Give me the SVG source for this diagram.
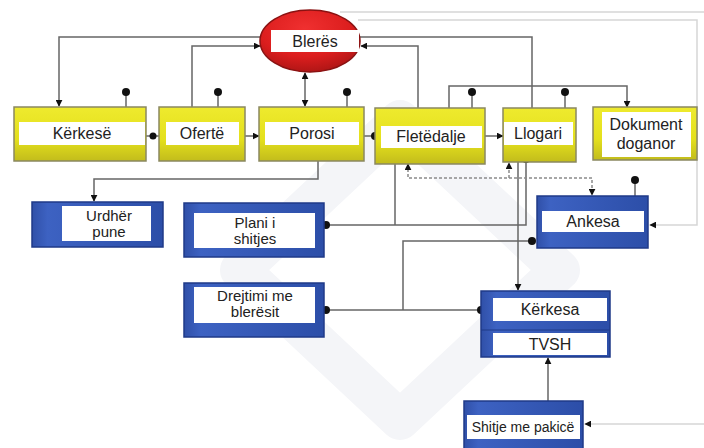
<svg xmlns="http://www.w3.org/2000/svg" width="704" height="448" viewBox="0 0 704 448">
  <defs>
    <linearGradient id="gYellow" x1="0" y1="0" x2="0" y2="1">
      <stop offset="0" stop-color="#eeea2e"/>
      <stop offset="0.6" stop-color="#e4e01c"/>
      <stop offset="1" stop-color="#c2bc1c"/>
    </linearGradient>
    <linearGradient id="gBlue" x1="0" y1="0" x2="1" y2="0">
      <stop offset="0" stop-color="#3050a8"/>
      <stop offset="0.12" stop-color="#3d62c2"/>
      <stop offset="1" stop-color="#2c4ea8"/>
    </linearGradient>
    <radialGradient id="gRed" cx="0.45" cy="0.3" r="0.75">
      <stop offset="0" stop-color="#f03030"/>
      <stop offset="0.6" stop-color="#dc1e1e"/>
      <stop offset="1" stop-color="#a81414"/>
    </radialGradient>
    <marker id="arrow" viewBox="0 0 10 10" refX="9" refY="5" markerWidth="7" markerHeight="7" markerUnits="userSpaceOnUse" orient="auto-start-reverse">
      <path d="M0,0 L10,5 L0,10 z" fill="#111"/>
    </marker>
    <marker id="dot" viewBox="0 0 10 10" refX="5" refY="5" markerWidth="8" markerHeight="8" markerUnits="userSpaceOnUse">
      <circle cx="5" cy="5" r="5" fill="#111"/>
    </marker>
  </defs>
  <style>
    .yellow { fill: url(#gYellow); stroke: #8a8860; stroke-width: 1.5; }
    .blue { fill: url(#gBlue); stroke: #1f3a88; stroke-width: 1.5; }
    .label { fill: #ffffff; }
    .txt { font-family: "Liberation Sans", Arial, sans-serif; font-size: 16px; fill: #222; text-anchor: middle; }
    .two { font-size: 15px; }
    .sm { font-size: 14px; }
    .wire { fill: none; stroke: #666; stroke-width: 1.5; }
    .faint { fill: none; stroke: #d6d6d6; stroke-width: 1.5; }
    .dash { fill: none; stroke: #8a8a8a; stroke-width: 1.5; stroke-dasharray: 3 2; }
    .dotc { fill: #111; }
  </style>

  <rect width="704" height="448" fill="#ffffff"/>

  <!-- soft background logo -->
  <g id="watermark">
    <path d="M400,120 L560,270 L400,420 L240,270 Z" fill="none" stroke="#f4f5f8" stroke-width="40" stroke-linejoin="round"/>
  </g>

  <!-- connectors -->
  <g id="connectors">
    <!-- light outer loops -->
    <path class="faint" d="M340,12 H704"/>
    <path class="faint" d="M358,20 H697 V225 H650" marker-end="url(#arrow)"/>
    <path class="faint" d="M704,424 H585" marker-end="url(#arrow)"/>

    <!-- to / from Blerës -->
    <path class="wire" d="M262,37 H59 V106" marker-end="url(#arrow)"/>
    <path class="wire" d="M192,107 V46 H260" marker-end="url(#arrow)"/>
    <path class="wire" d="M305,106 V73" marker-start="url(#arrow)" marker-end="url(#arrow)"/>
    <path class="wire" d="M418,108 V46 H361" marker-end="url(#arrow)"/>
    <path class="wire" d="M360,37 H532 V108"/>

    <!-- stub dots on top -->
    <path class="wire" d="M126,92 V107" marker-start="url(#dot)"/>
    <path class="wire" d="M218,92 V107" marker-start="url(#dot)"/>
    <path class="wire" d="M347,92 V107" marker-start="url(#dot)"/>
    <path class="wire" d="M472,92 V108" marker-start="url(#dot)"/>
    <path class="wire" d="M565,92 V108" marker-start="url(#dot)"/>
    <path class="wire" d="M635,180 V196" marker-start="url(#dot)"/>

    <!-- Fletëdalje to Dokument doganor -->
    <path class="wire" d="M449,108 V86 H627 V107" marker-end="url(#arrow)"/>

    <!-- chain of yellow boxes -->
    <path class="wire" d="M146,136 H159"/>
    <circle class="dotc" cx="153" cy="136" r="3.5"/>
    <path class="wire" d="M245,136 H259" marker-end="url(#arrow)"/>
    <path class="wire" d="M364,136 H375" marker-end="url(#dot)"/>
    <path class="wire" d="M485,136 H503" marker-end="url(#arrow)"/>

    <!-- Porosi to Urdhër pune -->
    <path class="wire" d="M318,161 V179 H94 V201" marker-end="url(#arrow)"/>

    <!-- Plani i shitjes -->
    <path class="wire" d="M326,225 H526 V159" marker-start="url(#dot)" marker-end="url(#dot)"/>
    <path class="wire" d="M395,225 V159" marker-end="url(#dot)"/>

    <!-- dashed feedback to Ankesa -->
    <path class="dash" d="M408,164 V178 H592 V195" marker-start="url(#arrow)" marker-end="url(#arrow)"/>
    <path class="dash" d="M509,178 V163" marker-end="url(#arrow)"/>

    <!-- Llogari to Kërkesa -->
    <path class="wire" d="M518,162 V290" marker-end="url(#arrow)"/>

    <!-- Ankesa and Drejtimi to Kërkesa -->
    <path class="wire" d="M532,241 H403 V310" marker-start="url(#dot)"/>
    <path class="wire" d="M326,310 H481" marker-start="url(#dot)" marker-end="url(#dot)"/>

    <!-- Shitje me pakicë to TVSH -->
    <path class="wire" d="M548,401 V358" marker-end="url(#arrow)"/>
  </g>

  <!-- nodes -->
  <g id="bleres">
    <ellipse cx="310" cy="41" rx="50" ry="31" fill="url(#gRed)" stroke="#8a1212" stroke-width="1.5"/>
    <rect class="label" x="271" y="30" width="88" height="22"/>
    <text class="txt" x="315" y="47">Blerës</text>
  </g>

  <g id="kerkese">
    <rect class="yellow" x="14" y="107" width="132" height="54"/>
    <rect class="label" x="19" y="122" width="126" height="23"/>
    <text class="txt" x="82" y="139">Kërkesë</text>
  </g>

  <g id="oferte">
    <rect class="yellow" x="159" y="107" width="86" height="54"/>
    <rect class="label" x="166" y="122" width="73" height="23"/>
    <text class="txt" x="202" y="139">Ofertë</text>
  </g>

  <g id="porosi">
    <rect class="yellow" x="259" y="107" width="105" height="54"/>
    <rect class="label" x="265" y="122" width="94" height="23"/>
    <text class="txt" x="312" y="139">Porosi</text>
  </g>

  <g id="fletedalje">
    <rect class="yellow" x="375" y="108" width="110" height="56"/>
    <rect class="label" x="381" y="126" width="101" height="22"/>
    <text class="txt" x="431" y="142">Fletëdalje</text>
  </g>

  <g id="llogari">
    <rect class="yellow" x="503" y="108" width="73" height="54"/>
    <rect class="label" x="504" y="122" width="69" height="23"/>
    <text class="txt" x="538" y="139">Llogari</text>
  </g>

  <g id="dokument-doganor">
    <rect class="yellow" x="593" y="107" width="104" height="53"/>
    <rect class="label" x="602" y="112" width="89" height="45"/>
    <text class="txt" x="646" y="130">Dokument</text>
    <text class="txt" x="646" y="149">doganor</text>
  </g>

  <g id="urdher-pune">
    <rect class="blue" x="32" y="202" width="131" height="45"/>
    <rect class="label" x="62" y="206" width="89" height="35"/>
    <text class="txt two" x="109" y="221">Urdhër</text>
    <text class="txt two" x="109" y="237">pune</text>
  </g>

  <g id="plani-shitjes">
    <rect class="blue" x="184" y="203" width="140" height="54"/>
    <rect class="label" x="194" y="213" width="121" height="35"/>
    <text class="txt two" x="255" y="228">Plani i</text>
    <text class="txt two" x="255" y="244">shitjes</text>
  </g>

  <g id="drejtimi-bleresit">
    <rect class="blue" x="184" y="283" width="140" height="54"/>
    <rect class="label" x="194" y="287" width="121" height="36"/>
    <text class="txt two" x="255" y="301">Drejtimi me</text>
    <text class="txt two" x="255" y="317">blerësit</text>
  </g>

  <g id="ankesa">
    <rect class="blue" x="537" y="196" width="111" height="52"/>
    <rect class="label" x="542" y="211" width="102" height="21"/>
    <text class="txt" x="593" y="227">Ankesa</text>
  </g>

  <g id="kerkesa-tvsh">
    <rect class="blue" x="481" y="291" width="129" height="66"/>
    <line x1="481" y1="330" x2="610" y2="330" stroke="#1f3a88" stroke-width="1"/>
    <rect class="label" x="493" y="298" width="114" height="23"/>
    <text class="txt" x="550" y="315">Kërkesa</text>
    <rect class="label" x="493" y="333" width="114" height="22"/>
    <text class="txt" x="550" y="350">TVSH</text>
  </g>

  <g id="shitje-pakice">
    <rect class="blue" x="464" y="401" width="119" height="52"/>
    <rect class="label" x="467" y="415" width="113" height="24"/>
    <text class="txt sm" x="523" y="432">Shitje me pakicë</text>
  </g>
</svg>
